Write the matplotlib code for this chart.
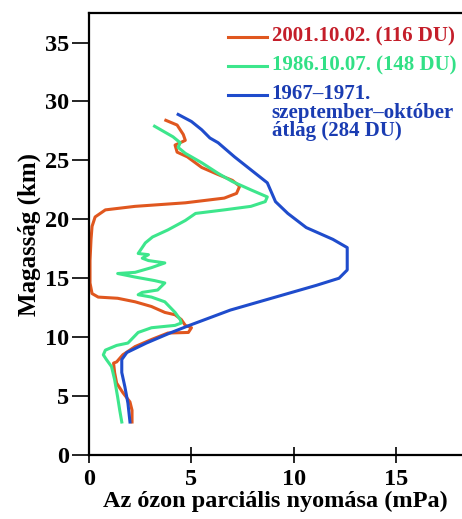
import matplotlib
matplotlib.use("Agg")
import matplotlib.pyplot as plt

plt.rcParams['font.family'] = ['Liberation Serif', 'DejaVu Serif']

# 2001.10.02. (116 DU) - pressure (mPa), altitude (km)
p2001 = [3.75, 4.3, 4.6, 4.7, 4.45, 4.2, 4.3, 4.8, 5.5, 6.3, 7.0, 7.35, 7.2, 6.6, 4.7, 2.25,
         0.8, 0.3, 0.15, 0.1, 0.05, 0.05, 0.15, 0.45, 1.4, 2.25, 3.05, 3.7, 4.2, 4.5, 4.7,
         5.0, 4.85, 3.85, 3.05, 2.25, 1.65, 1.35, 1.2, 1.25, 1.35, 1.65, 2.0, 2.1, 2.1]
h2001 = [28.4, 28.0, 27.2, 26.7, 26.5, 26.3, 25.7, 25.3, 24.4, 23.8, 23.3, 22.8, 22.2, 21.8,
         21.4, 21.1, 20.8, 20.2, 19.4, 18.3, 16.5, 14.6, 13.7, 13.4, 13.3, 13.0, 12.6, 12.1,
         11.9, 11.5, 11.0, 10.8, 10.4, 10.35, 9.8, 9.2, 8.5, 7.9, 7.8, 7.0, 6.1, 5.3, 4.5,
         3.8, 2.8]

# 1986.10.07. (148 DU)
p1986 = [3.2, 4.1, 4.45, 4.35, 4.7, 5.5, 6.3, 7.0, 7.9, 8.7, 8.6, 7.9, 6.6, 5.2, 4.7, 3.85,
         3.1, 2.75, 2.4, 2.9, 2.6, 2.9, 3.7, 3.05, 2.25, 1.4, 2.25, 3.2, 3.7, 3.35, 2.6, 2.4,
         3.05, 3.7, 4.2, 4.45, 4.5, 4.2, 3.05, 2.4, 1.9, 1.35, 0.8, 0.7, 0.85, 1.1, 1.25,
         1.4, 1.5, 1.6]
h1986 = [27.9, 27.0, 26.5, 26.1, 25.6, 24.8, 23.9, 23.2, 22.5, 21.9, 21.5, 21.1, 20.8, 20.5,
         19.9, 19.1, 18.5, 18.0, 17.1, 17.0, 16.7, 16.5, 16.3, 15.9, 15.5, 15.4, 15.1, 14.8,
         14.6, 14.0, 13.8, 13.6, 13.4, 13.0, 12.1, 11.5, 11.2, 11.0, 10.8, 10.4, 9.5, 9.3,
         8.9, 8.5, 8.1, 7.5, 6.4, 4.9, 3.8, 2.8]

# 1967-1971 szeptember-oktober atlag (284 DU)
p6771 = [4.35, 5.0, 5.5, 5.9, 6.3, 7.1, 7.9, 8.7, 8.9, 9.1, 9.7, 10.6, 11.9, 12.6, 12.6,
         12.6, 12.2, 11.1, 8.7, 6.9, 4.9, 3.95, 2.8, 1.85, 1.6, 1.6, 1.75, 1.9, 2.0]
h6771 = [28.9, 28.3, 27.6, 26.9, 26.5, 25.3, 24.2, 23.1, 22.3, 21.5, 20.5, 19.3, 18.3, 17.6,
         16.5, 15.7, 15.0, 14.4, 13.2, 12.3, 11.0, 10.35, 9.5, 8.7, 8.1, 7.0, 5.8, 4.4, 2.8]

labels = ["2001.10.02. (116 DU)", "1986.10.07. (148 DU)",
          "1967\u20131971.\nszeptember\u2013október\nátlag (284 DU)"]
line_colors = ["#e0571f", "#3de68c", "#1f4ccc"]
text_colors = ["#c41e2a", "#32e086", "#1a3cb2"]

fig = plt.figure(figsize=(4.62, 5.19), dpi=100)
ax = fig.add_axes([0.1926, 0.1233, 0.8074, 0.8515])

series = [(p2001, h2001), (p1986, h1986), (p6771, h6771)]
for (x, y), c in zip(series, line_colors):
    ax.plot(x, y, color=c, lw=2.2, solid_joinstyle='round')

ax.set_xlim(0, 18.2)
ax.set_ylim(0, 37.5)
ax.set_xticks([0, 5, 10, 15])
ax.set_yticks([0, 5, 10, 15, 20, 25, 30, 35])
ax.spines['right'].set_visible(False)
for s in ax.spines.values():
    s.set_linewidth(1.6)
ax.tick_params(axis='x', direction='inout', length=12, width=1.2, labelsize=17.5, pad=4)
ax.tick_params(axis='y', direction='out', length=12, width=1.2, labelsize=17.5, pad=2)
for t in ax.get_xticklabels() + ax.get_yticklabels():
    t.set_fontweight('bold')
ax.set_xlabel("Az ózon parciális nyomása (mPa)", fontsize=17.5, fontweight='bold', labelpad=1)
ax.set_ylabel("Magasság (km)", fontsize=18, fontweight='bold', labelpad=3)

# manual legend
ly = [0.946, 0.880, 0.815]
for yy, lab, lc, tc in zip(ly, labels, line_colors, text_colors):
    ax.plot([0.374, 0.477], [yy, yy], transform=ax.transAxes, color=lc, lw=2.2)
    ax.text(0.49, yy + 0.024, lab, transform=ax.transAxes, color=tc, fontsize=15,
            fontweight='bold', va='top', ha='left', linespacing=0.9)

fig.savefig("out.png", dpi=100)
